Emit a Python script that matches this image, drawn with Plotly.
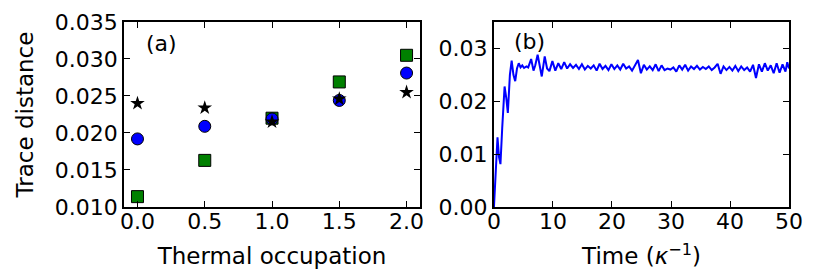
import plotly.graph_objects as go

# ---- Panel (a) data ----
thermal_occ = [0.0, 0.5, 1.0, 1.5, 2.0]
circle_vals = [0.0192, 0.0209, 0.0219, 0.0244, 0.0281]
square_vals = [0.0114, 0.0163, 0.0220, 0.0269, 0.0305]
star_vals = [0.0240, 0.0234, 0.0215, 0.0246, 0.0255]

# ---- Panel (b) data ----
time_pts = [0.0, 0.3, 0.6, 0.85, 1.1, 1.4, 1.8, 2.1, 2.35, 2.7, 3.0, 3.3, 3.6, 3.9,
            4.2, 4.5, 4.8, 5.1, 5.5, 5.8, 6.3, 6.7, 7.0, 7.4, 7.8, 8.1, 8.6, 9.0,
            9.4, 9.9, 10.4, 10.9, 11.4, 11.9, 12.4, 12.9, 13.4,
            13.9, 14.4, 14.9, 15.4, 15.9, 16.4, 16.9, 17.4, 17.9, 18.4, 18.9, 19.4,
            19.9, 20.4, 20.9, 21.4, 21.9, 22.4, 22.9, 23.4, 23.9, 24.4, 24.9, 25.4,
            25.9, 26.4, 26.9, 27.4, 27.9, 28.4, 28.9, 29.4, 29.9, 30.4, 30.9, 31.4,
            31.9, 32.4, 32.9, 33.4, 33.9, 34.4, 34.9, 35.4, 35.9, 36.4, 36.9, 37.4,
            37.9, 38.4, 38.9, 39.4, 39.9, 40.4, 40.9, 41.4, 41.9, 42.4, 42.9, 43.4,
            43.9, 44.4, 44.9, 45.4, 45.9, 46.4, 46.9, 47.4, 47.9, 48.4, 48.9, 49.4,
            49.7, 50.0]
trace_vals = [0.0, 0.0070, 0.0132, 0.0095, 0.0081, 0.0150, 0.0228, 0.0205, 0.0178, 0.0250,
              0.0277, 0.0250, 0.0238, 0.0262, 0.0272, 0.0264, 0.0268, 0.0263, 0.0266,
              0.0264, 0.0280, 0.0258, 0.0268, 0.0288, 0.0262, 0.0247, 0.0285, 0.0262,
              0.0257, 0.0276, 0.0258, 0.0272, 0.0261, 0.0274, 0.0262, 0.0270, 0.0263,
              0.0269, 0.0261, 0.0270, 0.0260, 0.0267, 0.0262, 0.0268, 0.0258, 0.0271,
              0.0261, 0.0267, 0.0259, 0.0270, 0.0261, 0.0268, 0.0260, 0.0271, 0.0262,
              0.0266, 0.0258, 0.0268, 0.0278, 0.0253, 0.0269, 0.0260, 0.0266, 0.0259,
              0.0270, 0.0257, 0.0268, 0.0259, 0.0262, 0.0260, 0.0264, 0.0256, 0.0268,
              0.0260, 0.0269, 0.0258, 0.0266, 0.0261, 0.0267, 0.0260, 0.0265, 0.0261,
              0.0266, 0.0259, 0.0264, 0.0271, 0.0252, 0.0266, 0.0259, 0.0265, 0.0258,
              0.0267, 0.0257, 0.0266, 0.0259, 0.0264, 0.0256, 0.0269, 0.0244, 0.0270,
              0.0256, 0.0272, 0.0258, 0.0268, 0.0253, 0.0272, 0.0254, 0.0270, 0.0256,
              0.0274, 0.0262]

left_xticks = [0.0, 0.5, 1.0, 1.5, 2.0]
left_yticks = [0.010, 0.015, 0.020, 0.025, 0.030, 0.035]
right_xticks = [0, 10, 20, 30, 40, 50]
right_yticks = [0.00, 0.01, 0.02, 0.03]

FONT = "DejaVu Sans"
TICK = 22
TITLE = 23
fig = go.Figure()

fig.add_trace(go.Scatter(x=thermal_occ, y=square_vals, mode="markers",
                         marker=dict(symbol="square", size=12, color="#008000",
                                     line=dict(color="black", width=1)),
                         xaxis="x", yaxis="y", showlegend=False))
fig.add_trace(go.Scatter(x=thermal_occ, y=circle_vals, mode="markers",
                         marker=dict(symbol="circle", size=12, color="#0000ff",
                                     line=dict(color="black", width=1)),
                         xaxis="x", yaxis="y", showlegend=False))
fig.add_trace(go.Scatter(x=thermal_occ, y=star_vals, mode="markers",
                         marker=dict(symbol="star", size=11, color="black",
                                     line=dict(color="black", width=0)),
                         xaxis="x", yaxis="y", showlegend=False))
fig.add_trace(go.Scatter(x=time_pts, y=trace_vals, mode="lines",
                         line=dict(color="#0000ff", width=2),
                         xaxis="x2", yaxis="y2", showlegend=False))

common = dict(showgrid=False, zeroline=False, showline=True, linecolor="black",
              linewidth=2, mirror="ticks", ticks="inside", ticklen=6,
              tickcolor="black", tickwidth=1, automargin=False,
              tickfont=dict(family=FONT, size=TICK, color="black"))

Y_DOM = [0.2816, 0.9495]

fig.update_layout(
    width=830, height=277,
    margin=dict(l=0, r=0, t=0, b=0),
    paper_bgcolor="white", plot_bgcolor="white",
    font=dict(family=FONT, size=TICK, color="black"),
    xaxis=dict(domain=[0.1398, 0.4964], range=[-0.1, 2.1], tickvals=left_xticks,
               tickformat=".1f", anchor="y", ticklabelstandoff=-6,
               title=dict(text="Thermal occupation",
                          font=dict(family=FONT, size=TITLE)), **common),
    yaxis=dict(domain=Y_DOM, range=[0.010, 0.035], tickvals=left_yticks,
               tickformat=".3f", anchor="x",
               title=dict(text="Trace distance",
                          font=dict(family=FONT, size=TITLE)), **common),
    xaxis2=dict(domain=[0.5855, 0.9410], range=[0, 50], tickvals=right_xticks,
                anchor="y2", ticklabelstandoff=-6,
                title=dict(text="Time (<i>κ</i><sup>−1</sup>)",
                           font=dict(family=FONT, size=TITLE)), **common),
    yaxis2=dict(domain=Y_DOM, range=[0, 0.035], tickvals=right_yticks,
                tickformat=".2f", anchor="x2", **common),
    annotations=[
        dict(text="(a)", x=0.05, y=0.0321, xref="x", yref="y", showarrow=False,
             xanchor="left", yanchor="middle", font=dict(family=FONT, size=TICK)),
        dict(text="(b)", x=3.0, y=0.0313, xref="x2", yref="y2", showarrow=False,
             xanchor="left", yanchor="middle", font=dict(family=FONT, size=TICK)),
    ],
)

fig.write_html("out.html")
